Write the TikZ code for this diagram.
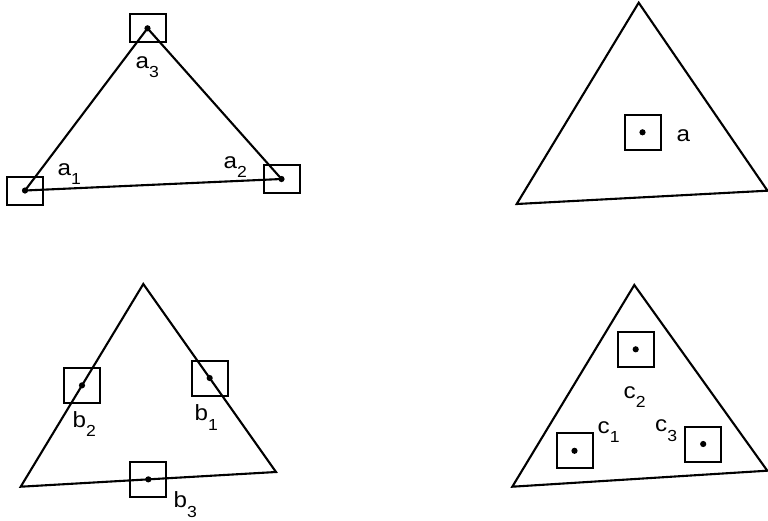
\documentclass[tikz,border=0pt]{standalone}
\usepackage{fontspec}
\setmainfont{Liberation Sans}[FakeStretch=1.1]
\usetikzlibrary{calc}
\newcommand\sbx[1]{\raisebox{-9.5pt}{\fontsize{16}{16}\selectfont #1}}
\tikzset{
  edge/.style={line width=2.1pt, line join=miter},
  dotpt/.style={circle, fill=black, inner sep=0pt, minimum size=6.2pt},
  sqbox/.style={draw, line width=2pt, inner sep=0pt, minimum width=36pt, minimum height=35pt},
  flatbox/.style={sqbox, minimum height=28pt},
  lbl/.style={anchor=base west, inner sep=0pt, font=\fontsize{22}{22}\selectfont}
}
\begin{document}
\begin{tikzpicture}[x=1pt,y=-1pt]
\useasboundingbox (0,0) rectangle (768,520);
% ---------- panel 1 ----------
\node[dotpt] (a1) at (25,190.5) {};
\node[dotpt] (a2) at (281.5,179) {};
\node[dotpt] (a3) at (147.5,28.3) {};
\node[flatbox] (ba1) at (a1) {};
\node[flatbox] (ba2) at (a2) {};
\node[flatbox] (ba3) at (a3) {};
\draw[edge] (a1.center) -- (a2.center) -- (a3.center) -- cycle;
\node[lbl] (la1) at (57.5,175) {a\sbx{1}};
\node[lbl] (la2) at (223.5,168) {a\sbx{2}};
\node[lbl] (la3) at (135.5,68) {a\sbx{3}};
% ---------- panel 2 ----------
\coordinate (p2t) at (638.7,2.7);
\coordinate (p2l) at (516.7,204);
\coordinate (p2r) at (767.5,190.7);
\draw[edge] (p2t) -- (p2r) -- (p2l) -- cycle;
\node[dotpt] (a) at (642.5,132.3) {};
\node[sqbox] (ba) at (a) {};
\node[lbl] (la) at (676.5,141.5) {a};
% ---------- panel 3 ----------
\coordinate (p3t) at (143.3,284);
\coordinate (p3l) at (20.7,486.7);
\coordinate (p3r) at (276,472);
\draw[edge] (p3t) -- (p3r) -- (p3l) -- cycle;
\node[dotpt] (b1) at ($(p3t)!0.5!(p3r)$) {};
\node[dotpt] (b2) at ($(p3t)!0.5!(p3l)$) {};
\node[dotpt] (b3) at ($(p3l)!0.5!(p3r)$) {};
\node[sqbox] (bb1) at (b1) {};
\node[sqbox] (bb2) at (b2) {};
\node[sqbox] (bb3) at (b3) {};
\node[lbl] (lb1) at (194.5,420.5) {b\sbx{1}};
\node[lbl] (lb2) at (72.5,427) {b\sbx{2}};
\node[lbl] (lb3) at (173.5,507.5) {b\sbx{3}};
% ---------- panel 4 ----------
\coordinate (p4t) at (634.3,285);
\coordinate (p4l) at (512.3,486.7);
\coordinate (p4r) at (767.3,470.7);
\draw[edge] (p4t) -- (p4r) -- (p4l) -- cycle;
\node[dotpt] (c1) at (574.5,450.8) {};
\node[dotpt] (c2) at (635.7,349.3) {};
\node[dotpt] (c3) at (703.2,444) {};
\node[sqbox] (bc1) at (c1) {};
\node[sqbox] (bc2) at (c2) {};
\node[sqbox] (bc3) at (c3) {};
\node[lbl] (lc1) at (597.5,433.3) {c\sbx{1}};
\node[lbl] (lc2) at (623.5,398.3) {c\sbx{2}};
\node[lbl] (lc3) at (655,431.7) {c\sbx{3}};
\end{tikzpicture}
\end{document}
